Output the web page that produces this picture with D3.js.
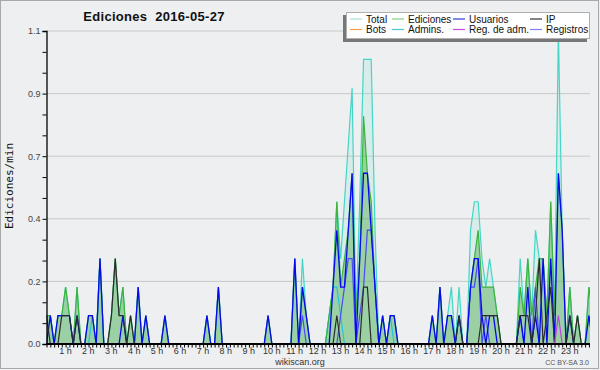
<!DOCTYPE html>
<html>
<head>
<meta charset="utf-8">
<script src="https://cdn.jsdelivr.net/npm/d3@7/dist/d3.min.js"></script>
<style>
body { margin: 0; background: #fff; }
svg { display: block; font-family: "Liberation Sans", Arial, sans-serif; }
</style>
</head>
<body>
<svg id="chart" width="600" height="370"></svg>
<script>
// edits per 10-minute bucket (value / 10 = edits per minute), 144 buckets from 0 h
var total = [
  1,1,0,1,1,2,1,0,2,0, 0,1,1,0,3,0,0,1,3,1, 2,0,1,0,2,0,1,0,0,0,
  0,1,0,0,0,0,0,0,0,0, 0,0,1,0,0,2,0,0,0,0, 0,0,0,0,0,0,0,0,1,0,
  0,0,0,0,0,3,0,3,1,0, 0,0,0,0,1,2,5,3,5,7, 9,1,5,10,10,10,4,0,1,0,
  1,1,0,0,0,0,0,0,0,0, 0,1,0,2,0,1,2,0,2,0, 0,4,5,5,3,2,3,2,1,0,
  0,0,0,0,3,1,3,1,4,3, 3,1,5,1,11,4,0,2,0,1, 0,0,2,1
];
var edits = [
  1,1,0,1,1,2,1,0,2,0, 0,1,1,0,3,0,0,1,3,1, 2,0,1,0,2,0,1,0,0,0,
  0,1,0,0,0,0,0,0,0,0, 0,0,1,0,0,2,0,0,0,0, 0,0,0,0,0,0,0,0,1,0,
  0,0,0,0,0,3,0,2,1,0, 0,0,0,0,1,2,5,2,3,4, 6,1,3,8,6,5,2,0,1,0,
  1,1,0,0,0,0,0,0,0,0, 0,1,0,2,0,1,1,0,1,0, 0,2,3,4,2,2,2,2,1,0,
  0,0,0,0,2,1,3,1,2,3, 3,1,5,1,6,4,0,2,0,1, 0,0,2,1
];
var users = [
  0,1,0,1,1,1,1,0,1,0, 0,1,1,0,3,0,0,0,0,0, 1,0,0,0,2,0,1,0,0,0,
  0,1,0,0,0,0,0,0,0,0, 0,0,1,0,0,2,0,0,0,0, 0,0,0,0,0,0,0,0,1,0,
  0,0,0,0,0,3,0,2,1,0, 0,0,0,0,0,2,4,2,2,4, 6,0,3,6,6,4,2,0,1,0,
  1,1,0,0,0,0,0,0,0,0, 0,1,0,2,0,1,1,0,1,0, 0,2,3,3,1,0,1,1,0,0,
  0,0,0,0,1,0,2,0,1,0, 3,0,3,0,6,4,0,1,0,0, 0,0,1,0
];
var anon = [
  1,0,0,0,1,1,1,0,1,0, 0,0,0,0,0,0,0,1,3,1, 1,0,1,0,0,0,0,0,0,0,
  0,0,0,0,0,0,0,0,0,0, 0,0,0,0,0,0,0,0,0,0, 0,0,0,0,0,0,0,0,0,0,
  0,0,0,0,0,0,0,0,0,0, 0,0,0,0,0,0,1,0,0,0, 0,0,0,2,2,0,0,0,0,0,
  0,0,0,0,0,0,0,0,0,0, 0,0,0,0,0,0,0,0,1,0, 0,0,0,0,1,1,1,1,1,0,
  0,0,0,0,1,1,1,0,1,3, 0,1,2,0,0,0,0,1,0,1, 0,0,0,0
];
var admins = [
  1,1,0,0,0,0,0,0,0,0, 0,0,1,0,3,0,0,0,0,0, 0,0,0,0,0,0,0,0,0,0,
  0,0,0,0,0,0,0,0,0,0, 0,0,0,0,0,0,0,0,0,0, 0,0,0,0,0,0,0,0,0,0,
  0,0,0,0,0,0,0,0,0,0, 0,0,0,0,1,2,2,1,0,0, 0,0,0,0,0,0,0,0,0,0,
  1,0,0,0,0,0,0,0,0,0, 0,0,0,0,0,0,0,0,0,0, 0,0,0,0,0,0,0,0,0,0,
  0,0,0,0,0,0,0,0,0,0, 0,0,0,0,0,0,0,0,0,0, 0,0,1,0
];
var logs = [
  0,0,0,0,0,0,0,0,0,0, 0,0,0,0,0,0,0,0,0,0, 0,0,0,0,0,0,0,0,0,0,
  0,0,0,0,0,0,0,0,0,0, 0,0,0,0,0,0,0,0,0,0, 0,0,0,0,0,0,0,0,0,0,
  0,0,0,0,0,0,0,1,0,0, 0,0,0,0,0,0,0,1,2,3, 3,0,1,2,4,4,2,0,0,0,
  0,0,0,0,0,0,0,0,0,0, 0,0,0,0,0,0,0,0,0,0, 0,2,2,3,0,1,0,0,0,0,
  0,0,0,0,1,0,0,0,2,0, 0,0,0,0,0,0,0,0,0,0, 0,0,0,0
];
var adminLogs = [
  0,0,0,0,0,0,0,0,0,0, 0,0,0,0,0,0,0,0,0,0, 0,0,0,0,0,0,0,0,0,0,
  0,0,0,0,0,0,0,0,0,0, 0,0,0,0,0,0,0,0,0,0, 0,0,0,0,0,0,0,0,0,0,
  0,0,0,0,0,0,0,0,0,0, 0,0,0,0,0,0,0,0,0,0, 0,0,0,0,0,0,0,0,0,0,
  0,0,0,0,0,0,0,0,0,0, 0,0,0,0,0,0,0,0,0,0, 0,0,0,0,0,0,0,0,0,0,
  0,0,0,0,0,0,0,0,0,0, 0,0,0,0,1,0,0,0,0,0, 0,0,0,0
];
var hourLabels = ['1 h','2 h','3 h','4 h','5 h','6 h','7 h','8 h','9 h','10 h','11 h','12 h',
  '13 h','14 h','15 h','16 h','17 h','18 h','19 h','20 h','21 h','22 h','23 h'];
var legendItems = [
  { label: 'Total', color: '#a6e3da' },
  { label: 'Ediciones', color: '#86d086' },
  { label: 'Usuarios', color: '#3a3ad8' },
  { label: 'IP', color: '#333333' },
  { label: 'Bots', color: '#f5a045' },
  { label: 'Admins.', color: '#45c8d8' },
  { label: 'Reg. de adm.', color: '#c848e0' },
  { label: 'Registros', color: '#7f7ff0' }
];

function drawChart() {
  var svg = d3.select('#chart');
  var plotLeft = 46.5, plotRight = 590, plotTop = 31, plotBottom = 344;
  var bucketPx = 3.82;

  var x = d3.scaleLinear().domain([0, 24]).range([plotLeft, plotLeft + 24 * 6 * bucketPx]);
  var y = d3.scaleLinear().domain([0, 11]).range([plotBottom, plotTop]);

  // background + frame
  svg.append('rect').attr('width', 600).attr('height', 370).attr('fill', '#eeeff1');
  svg.append('rect').attr('x', 0.5).attr('y', 0.5).attr('width', 598).attr('height', 368)
    .attr('fill', 'none').attr('stroke', '#a8a8a8');

  svg.append('defs').append('clipPath').attr('id', 'plotclip')
    .append('rect').attr('x', plotLeft).attr('y', 0)
    .attr('width', plotRight - plotLeft).attr('height', plotBottom + 1);

  // grid lines
  var gridVals = d3.range(1, 6).map(function(k) { return k * 11 / 5; });
  svg.append('g').selectAll('line').data(gridVals).enter().append('line')
    .attr('x1', plotLeft).attr('x2', plotRight)
    .attr('y1', function(d) { return y(d); }).attr('y2', function(d) { return y(d); })
    .attr('stroke', '#c8c8c8').attr('stroke-width', 1);

  var plot = svg.append('g').attr('clip-path', 'url(#plotclip)');

  function hourOf(i) { return i / 6; }
  var line = d3.line().x(function(d, i) { return x(hourOf(i)); }).y(function(d) { return y(d); });
  var area = d3.area().x(function(d, i) { return x(hourOf(i)); }).y0(plotBottom).y1(function(d) { return y(d); });

  plot.append('path').datum(total).attr('d', area).attr('fill', 'rgba(130,225,205,0.2)');
  plot.append('path').datum(edits).attr('d', area).attr('fill', 'rgba(70,170,70,0.42)');

  var series = [
    { data: total, color: '#45d6c6', w: 1.2 },
    { data: admins, color: '#22c4e0', w: 1.2 },
    { data: edits, color: '#3cb43c', w: 1.2 },
    { data: logs, color: '#4a4af6', w: 1.2 },
    { data: users, color: '#0808f0', w: 1.3 },
    { data: anon, color: '#2b2b2b', w: 1.2 },
    { data: adminLogs, color: '#c040e0', w: 1.2 }
  ];
  plot.selectAll('path.ln').data(series).enter().append('path')
    .attr('class', 'ln')
    .attr('d', function(s) { return line(s.data); })
    .attr('fill', 'none')
    .attr('stroke', function(s) { return s.color; })
    .attr('stroke-width', function(s) { return s.w; });

  // y axis, minor ticks at thirds of the grid spacing
  var yTickVals = d3.range(16).map(function(k) { return k * 11 / 15; });
  var yAxis = d3.axisLeft(y).tickValues(yTickVals).tickSize(4).tickPadding(2)
    .tickFormat(function(d, i) { return i % 3 === 0 ? (d / 10).toFixed(1) : ''; });
  var gy = svg.append('g').attr('transform', 'translate(' + plotLeft + ',0)').call(yAxis);
  gy.select('.domain').attr('stroke', '#000').attr('stroke-width', 1.3);
  gy.selectAll('.tick line').attr('stroke', '#000');
  gy.selectAll('.tick text').attr('font-size', 9).attr('fill', '#444')
    .attr('font-family', '"Liberation Sans", Arial, sans-serif');

  // x axis: one tick per 10 minutes
  var xTickVals = d3.range(143).map(hourOf);
  var xAxis = d3.axisBottom(x).tickValues(xTickVals).tickSize(3.5).tickFormat('');
  var gx = svg.append('g').attr('transform', 'translate(0,' + plotBottom + ')').call(xAxis);
  gx.select('.domain').remove();
  gx.selectAll('.tick line').attr('stroke', '#000');
  svg.append('line').attr('x1', plotLeft).attr('x2', plotRight).attr('y1', plotBottom).attr('y2', plotBottom)
    .attr('stroke', '#000').attr('stroke-width', 1.8);

  svg.append('g').selectAll('text').data(hourLabels).enter().append('text')
    .attr('x', function(d, i) { return x(i + 1) - 4; })
    .attr('y', 354)
    .attr('text-anchor', 'middle')
    .attr('font-size', 9)
    .attr('fill', '#333')
    .text(function(d) { return d; });

  // titles
  svg.append('text').attr('x', 154).attr('y', 21).attr('text-anchor', 'middle')
    .attr('font-size', 13).attr('font-weight', 'bold').attr('fill', '#111')
    .attr('letter-spacing', 0.3)
    .style('white-space', 'pre')
    .text('Ediciones  2016-05-27');

  svg.append('text')
    .attr('transform', 'translate(13,186) rotate(-90)')
    .attr('text-anchor', 'middle')
    .attr('font-family', '"DejaVu Sans Mono", monospace')
    .attr('font-size', 11).attr('fill', '#111')
    .text('Ediciones/min');

  svg.append('text').attr('x', 300).attr('y', 365).attr('text-anchor', 'middle')
    .attr('font-size', 9).attr('fill', '#333').text('wikiscan.org');
  svg.append('text').attr('x', 589).attr('y', 365).attr('text-anchor', 'end')
    .attr('font-size', 7).attr('fill', '#555').text('CC BY-SA 3.0');

  // legend
  var legend = svg.append('g');
  legend.append('rect').attr('x', 343).attr('y', 15).attr('width', 244).attr('height', 27).attr('fill', '#777');
  legend.append('rect').attr('x', 346.5).attr('y', 12.5).attr('width', 243).attr('height', 26)
    .attr('fill', '#fff').attr('stroke', '#b0b0b0');
  var colX = [350, 392, 453, 530];
  var rowY = [19, 29.5];
  var items = legend.selectAll('g.item').data(legendItems).enter().append('g')
    .attr('class', 'item')
    .attr('transform', function(d, i) {
      return 'translate(' + colX[i % 4] + ',' + rowY[Math.floor(i / 4)] + ')';
    });
  items.append('line').attr('x1', 0).attr('x2', 12).attr('y1', 0).attr('y2', 0)
    .attr('stroke', function(d) { return d.color; }).attr('stroke-width', 1.2);
  items.append('text').attr('x', 16).attr('y', 3.5).attr('font-size', 10).attr('fill', '#111')
    .text(function(d) { return d.label; });
}

drawChart();
</script>
</body>
</html>
